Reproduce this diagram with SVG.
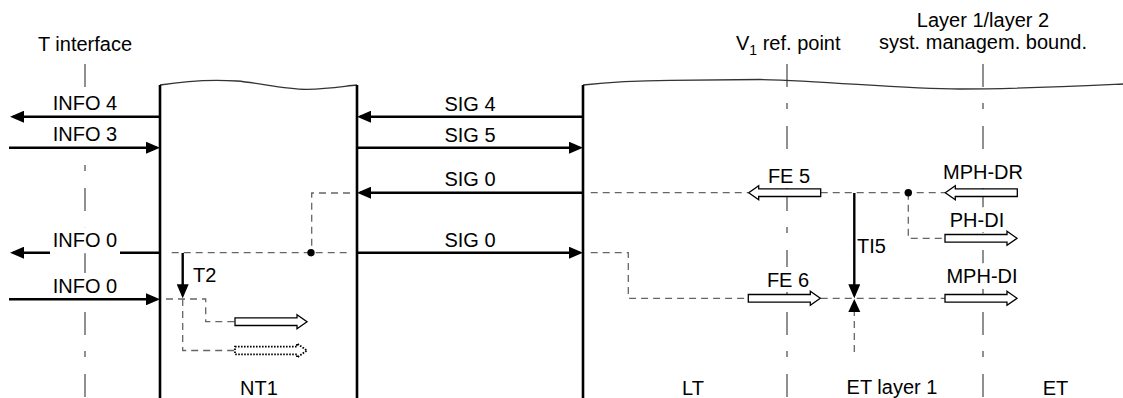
<svg xmlns="http://www.w3.org/2000/svg" width="1123" height="398" viewBox="0 0 1123 398">
<style>
text{font-family:"Liberation Sans",Arial,sans-serif;font-size:20px;fill:#000}
.m{text-anchor:middle}
.guide{fill:none;stroke:#555;stroke-width:1.3;stroke-dasharray:23 16 6 17}
.bg{fill:#fff}
.edge{fill:none;stroke:#000;stroke-width:2.6}
.wave{fill:none;stroke:#333;stroke-width:1.3}
.sig{fill:none;stroke:#000;stroke-width:2.4;marker-end:url(#ah)}
.line{fill:none;stroke:#000;stroke-width:2.4}
.dash{fill:none;stroke:#666;stroke-width:1.3;stroke-dasharray:7 5}
.blk{fill:#fff;stroke:#000;stroke-width:1.3}
.dot{fill:#fff;stroke:#000;stroke-width:1.8;stroke-dasharray:1.6 1.4}
</style>
<defs>
<marker id="ah" markerWidth="14" markerHeight="12" refX="11" refY="6" orient="auto" markerUnits="userSpaceOnUse"><path d="M0,0 L14,6 L0,12 z" fill="#000"/></marker>
<path id="openR" d="M0,-3.8 H62 V-7 L72,0 L62,7 V3.8 H0 Z"/>
</defs>

<g id="guides">
<path class="guide" d="M85,64 V398"/>
<path class="guide" d="M787,64 V398"/>
<path class="guide" d="M983,64 V398"/>
</g>

<g id="label-bgs">
<rect class="bg" x="49.7" y="90" width="70.6" height="26"/>
<rect class="bg" x="49.7" y="121.5" width="70.6" height="26"/>
<rect class="bg" x="49.7" y="227.2" width="70.6" height="26"/>
<rect class="bg" x="49.7" y="273.2" width="70.6" height="25"/>
<rect class="bg" x="765" y="163" width="48" height="25"/>
<rect class="bg" x="764" y="267" width="48" height="25"/>
<rect class="bg" x="940" y="160" width="86" height="26"/>
<rect class="bg" x="946" y="207.2" width="62" height="25"/>
<rect class="bg" x="943" y="263.2" width="78" height="25"/>
</g>

<g id="NT1">
<path class="wave" d="M160,85 C185,81 215,79.5 237,81 C260,83 285,89.5 307,89.3 C330,89 345,86 357,85"/>
<path class="edge" d="M160,85 V398 M357,85 V398"/>
<text class="m" x="259" y="395">NT1</text>
</g>

<g id="LT">
<path class="wave" d="M583,85 C610,82 640,80.5 670,80.3 L760,79.5 C830,81 900,89 960,89 C1020,89 1080,86 1123,84"/>
<path class="edge" d="M583,85 V398"/>
<text class="m" x="693" y="395">LT</text>
</g>

<g id="connectors">
<path class="dash" d="M350,193 H311.7 V252.7"/>
<path class="dash" d="M171.7,252.7 H350"/>
<path class="dash" d="M166,299 H205.7 V321.7 H235"/>
<path class="dash" d="M182.7,299 V350.5 H235"/>
<path class="dash" d="M590.7,192.7 H748.3"/>
<path class="dash" d="M820.7,192.7 H945"/>
<path class="dash" d="M908.3,192.7 V238.3 H945"/>
<path class="dash" d="M590.7,252.7 H628.3 V298.3 H748.3"/>
<path class="dash" d="M820.7,298.3 H945"/>
<path class="dash" d="M854.3,352 V312"/>
<circle cx="311" cy="252.7" r="3.7" fill="#000"/>
<circle cx="908.3" cy="192.7" r="3.7" fill="#000"/>

<path class="sig" d="M160,116.7 H13"/>
<path class="sig" d="M9,147.7 H157"/>
<path class="sig" d="M583,116.7 H360"/>
<path class="sig" d="M357,147.7 H580"/>
<path class="sig" d="M583,192.7 H360"/>
<path class="sig" d="M357,252.7 H580"/>
<path class="line" d="M160,252.7 H120"/>
<path class="sig" d="M50,252.7 H13"/>
<path class="sig" d="M9,299.3 H157"/>
<path class="sig" d="M182.7,253 V295.3"/>
<path class="sig" d="M854.3,193 V295.3"/>
<path d="M854.3,299 L848.3,312 L860.3,312 Z" fill="#000"/>

<use href="#openR" class="blk" transform="translate(235,321.7)"/>
<use href="#openR" class="dot" transform="translate(235,350.5)"/>
<use href="#openR" class="blk" transform="translate(820.7,192.7) scale(-1,1)"/>
<use href="#openR" class="blk" transform="translate(748.3,298.3)"/>
<use href="#openR" class="blk" transform="translate(1017.3,192.7) scale(-1,1)"/>
<use href="#openR" class="blk" transform="translate(945,238.3)"/>
<use href="#openR" class="blk" transform="translate(945,298.3)"/>
</g>

<g id="labels">
<text class="m" x="85" y="51">T interface</text>
<text x="736" y="49.5">V<tspan font-size="14" dy="5">1</tspan><tspan dy="-5"> ref. point</tspan></text>
<text class="m" x="983" y="27">Layer 1/layer 2</text>
<text class="m" x="983" y="49">syst. managem. bound.</text>
<text class="m" x="85" y="109.5">INFO 4</text>
<text class="m" x="85" y="141">INFO 3</text>
<text class="m" x="85" y="246.7">INFO 0</text>
<text class="m" x="85" y="292.7">INFO 0</text>
<text class="m" x="470" y="110.5">SIG 4</text>
<text class="m" x="470" y="141.5">SIG 5</text>
<text class="m" x="470" y="186">SIG 0</text>
<text class="m" x="470" y="247">SIG 0</text>
<text x="193" y="282">T2</text>
<text class="m" x="789" y="182.5">FE 5</text>
<text class="m" x="788" y="286.5">FE 6</text>
<text class="m" x="983" y="179.3">MPH-DR</text>
<text class="m" x="977" y="226.7">PH-DI</text>
<text x="857" y="252.7">TI5</text>
<text class="m" x="982" y="282.7">MPH-DI</text>
<text class="m" x="892" y="394">ET layer 1</text>
<text class="m" x="1055.5" y="395">ET</text>
</g>
</svg>
